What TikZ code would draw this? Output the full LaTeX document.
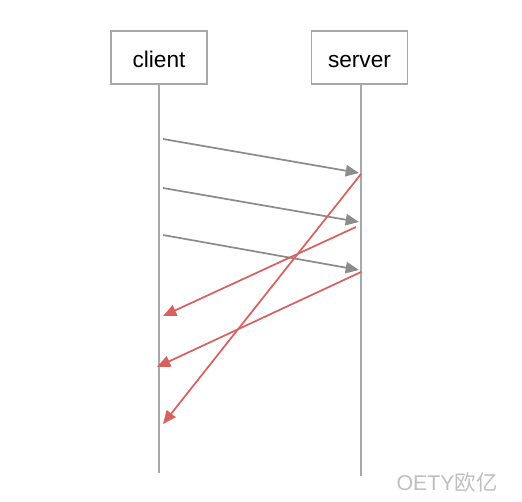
\documentclass[tikz,border=0pt]{standalone}
\usepackage{fontspec}
\setmainfont{Liberation Sans}
\newfontfamily\cjkfont{Noto Sans CJK SC}
\usepackage{tikz}
\usetikzlibrary{arrows.meta}

\definecolor{msggray}{HTML}{8C8C8C}
\definecolor{boxgray}{HTML}{A8A8A8}
\definecolor{ackred}{HTML}{D9605F}

\tikzset{
  party/.style={draw=boxgray, line width=1.3pt, minimum width=72pt, minimum height=40pt,
    inner sep=0pt, text height=17pt, text depth=2pt, font=\fontsize{17}{20}\selectfont},
  lifeline/.style={boxgray, line width=1.3pt},
  sendmsg/.style={msggray, line width=1.3pt, -{Triangle[length=10pt,width=8.5pt]}},
  ackmsg/.style={ackred, line width=1.3pt, -{Triangle[length=10pt,width=8.5pt]}}
}

\begin{document}
\begin{tikzpicture}[x=0.75pt, y=-0.75pt]
    \useasboundingbox (0,0) rectangle (522,502);
    \node[party] (client) at (159,57.5) {client};
    \node[party] (server) at (359.5,57.5) {server};
    \coordinate (clientend) at (159,473);
    \coordinate (serverend) at (361,476);
    \draw[lifeline] (client.south -| clientend) -- (clientend);
    \draw[lifeline] (server.south -| serverend) -- (serverend);
    % data sent by the client
    \coordinate (s1) at (163,139);  \coordinate (r1) at (359,173);
    \coordinate (s2) at (163,188);  \coordinate (r2) at (359,222);
    \coordinate (s3) at (163,235);  \coordinate (r3) at (359,270);
    \draw[sendmsg] (s1) -- (r1);
    \draw[sendmsg] (s2) -- (r2);
    \draw[sendmsg] (s3) -- (r3);
    % acks back from the server
    \coordinate (a1) at (361,174);  \coordinate (b1) at (163,424);
    \coordinate (a2) at (356,227);  \coordinate (b2) at (163,316);
    \coordinate (a3) at (361,272);  \coordinate (b3) at (157,367);
    \draw[ackmsg] (a1) -- (b1);
    \draw[ackmsg] (a2) -- (b2);
    \draw[ackmsg] (a3) -- (b3);
    \node[text=black!25, font=\fontsize{16}{18}\selectfont] (mark) at (447,482) {OETY\cjkfont 欧亿};
\end{tikzpicture}
\end{document}
